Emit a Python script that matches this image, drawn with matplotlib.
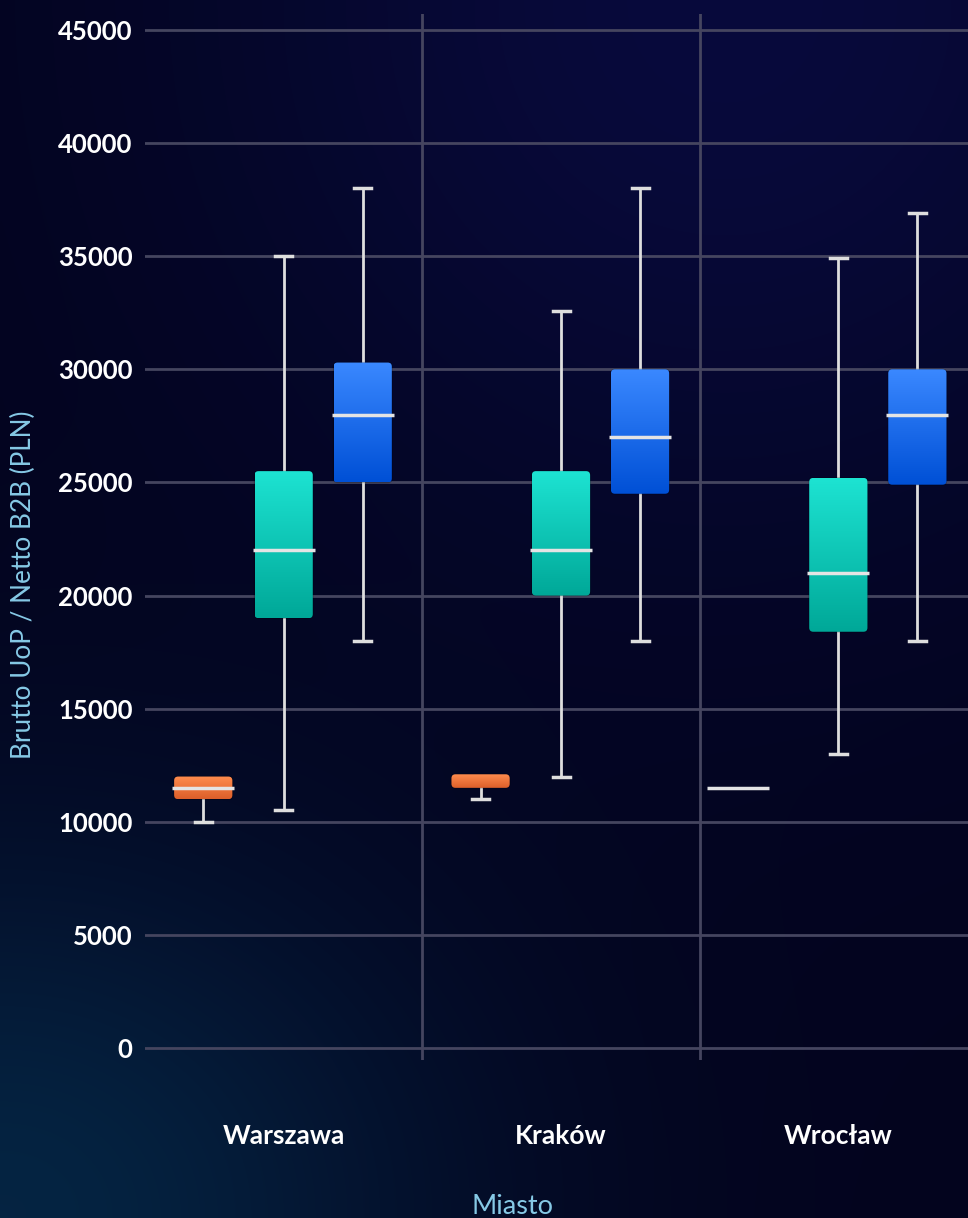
import matplotlib
matplotlib.use("Agg")
import matplotlib.pyplot as plt
from matplotlib.patches import FancyBboxPatch
import numpy as np

plt.rcParams['font.family'] = ['Lato', 'DejaVu Sans']

# data (PLN)
cities = ['Warszawa', 'Kraków', 'Wrocław']
groups = ['orange', 'teal', 'blue']
# per group: one row per city -> [min, q1, median, q3, max]
orange_stats = [[10000, 11000, 11500, 12000, 12000],
                [11000, 11500, 11500, 12100, 12100],
                [11500, 11500, 11500, 11500, 11500]]
teal_stats = [[10500, 19000, 22000, 25500, 35000],
              [12000, 20000, 22000, 25500, 32600],
              [13000, 18400, 21000, 25200, 34900]]
blue_stats = [[18000, 25000, 28000, 30300, 38000],
              [18000, 24500, 27000, 30000, 38000],
              [18000, 24900, 28000, 30000, 36900]]
yticks = [0, 5000, 10000, 15000, 20000, 25000, 30000, 35000, 40000, 45000]

gradients = {'orange': ('#ff8c4e', '#dc5f2a'),
             'teal': ('#1de3d2', '#00a898'),
             'blue': ('#3a88ff', '#0050d6')}
offsets = {'orange': -0.29, 'teal': 0.0, 'blue': 0.285}
box_w = 0.21

W, H = 968, 1218
fig = plt.figure(figsize=(W / 100, H / 100), dpi=100)

# background gradient
bg = fig.add_axes([0, 0, 1, 1], zorder=-10)
yy, xx = np.mgrid[0:1:300j, 0:1:240j]
base = np.array([3, 4, 30]) / 255.0
img = np.ones((300, 240, 3)) * base
g1 = np.exp(-(((xx - 0.75) / 0.55) ** 2 + ((yy - 0.0) / 0.45) ** 2))
img += g1[..., None] * (np.array([5, 6, 30]) / 255.0)
g2 = np.exp(-(((xx - 0.0) / 0.45) ** 2 + ((yy - 1.0) / 0.3) ** 2))
img += g2[..., None] * (np.array([2, 32, 36]) / 255.0)
bg.imshow(np.clip(img, 0, 1), aspect='auto', extent=[0, 1, 0, 1], origin='upper',
          interpolation='bilinear')
bg.set_axis_off()

ax_left, ax_right = 145 / W, 977 / W
ax_bottom, ax_top = 1 - 1060 / H, 1 - 14 / H
ax = fig.add_axes([ax_left, ax_bottom, ax_right - ax_left, ax_top - ax_bottom])
ax.set_facecolor('none')
ax.set_xlim(-0.5, 2.5)
ax.set_ylim(-530, 45707)

px_x = (977 - 145) / 3.0
px_y = 1018 / 45000.0
aspect = px_x / px_y

grid_c = '#45455f'
for t in yticks:
    ax.axhline(t, color=grid_c, lw=2, zorder=1)
for xv in [0.5, 1.5]:
    ax.axvline(xv, color=grid_c, lw=2, zorder=1)

line_c = '#dedede'
cap_w = 17 / px_x
r = 4 / px_x
all_stats = {'orange': orange_stats, 'teal': teal_stats, 'blue': blue_stats}
for g in groups:
    top_c, bot_c = gradients[g]
    c1 = np.array(matplotlib.colors.to_rgb(top_c))
    c2 = np.array(matplotlib.colors.to_rgb(bot_c))
    grad = np.linspace(0, 1, 64)[:, None, None] * (c2 - c1) + c1
    grad = np.repeat(grad, 2, axis=1)
    for i, st in enumerate(all_stats[g]):
        lo, q1, med, q3, hi = st
        xc = i + offsets[g]
        if lo == hi:
            # collapsed box sits a bit further left in the reference
            xc -= 20 / px_x
        x0 = xc - box_w / 2
        # whiskers and caps
        if hi > q3:
            ax.plot([xc, xc], [q3, hi], color=line_c, lw=2, zorder=3)
            ax.plot([xc - cap_w / 2, xc + cap_w / 2], [hi, hi], color=line_c, lw=2.5, zorder=3)
        if lo < q1:
            ax.plot([xc, xc], [lo, q1], color=line_c, lw=2, zorder=3)
            ax.plot([xc - cap_w / 2, xc + cap_w / 2], [lo, lo], color=line_c, lw=2.5, zorder=3)
        if q3 > q1:
            patch = FancyBboxPatch((x0, q1), box_w, q3 - q1,
                                   boxstyle='round,pad=0,rounding_size=%f' % r,
                                   mutation_aspect=aspect, facecolor='none',
                                   edgecolor=(0, 0, 0, 0.25), lw=1, zorder=4)
            ax.add_patch(patch)
            im = ax.imshow(grad, extent=[x0, x0 + box_w, q1, q3], origin='upper',
                           aspect='auto', interpolation='bilinear', zorder=4)
            im.set_clip_path(patch)
        # median
        if q1 < med < q3 or q1 == q3:
            ext = 2 / px_x
            ax.plot([x0 - ext, x0 + box_w + ext], [med, med], color='#e4e4e4',
                    lw=2.5, zorder=5, solid_capstyle='butt')

ax.set_xlim(-0.5, 2.5)
ax.set_ylim(-530, 45707)
for s in ax.spines.values():
    s.set_visible(False)
ax.set_yticks(yticks)
ax.set_yticklabels([str(t) for t in yticks], color='white', fontsize=18.5, fontweight='bold')
ax.set_xticks([0, 1, 2])
ax.set_xticklabels(cities, color='white', fontsize=19, fontweight='bold')
ax.tick_params(axis='y', length=0, pad=9)
ax.tick_params(axis='x', length=0, pad=46)

fig.text(23 / W, 1 - 585 / H, 'Brutto UoP / Netto B2B (PLN)', rotation=90,
         color='#86c9e6', fontsize=18.8, ha='center', va='center')
fig.text(512 / W, 11 / H, 'Miasto', color='#86c9e6', fontsize=19.5,
         ha='center', va='center')

fig.savefig('out.png', dpi=100)
